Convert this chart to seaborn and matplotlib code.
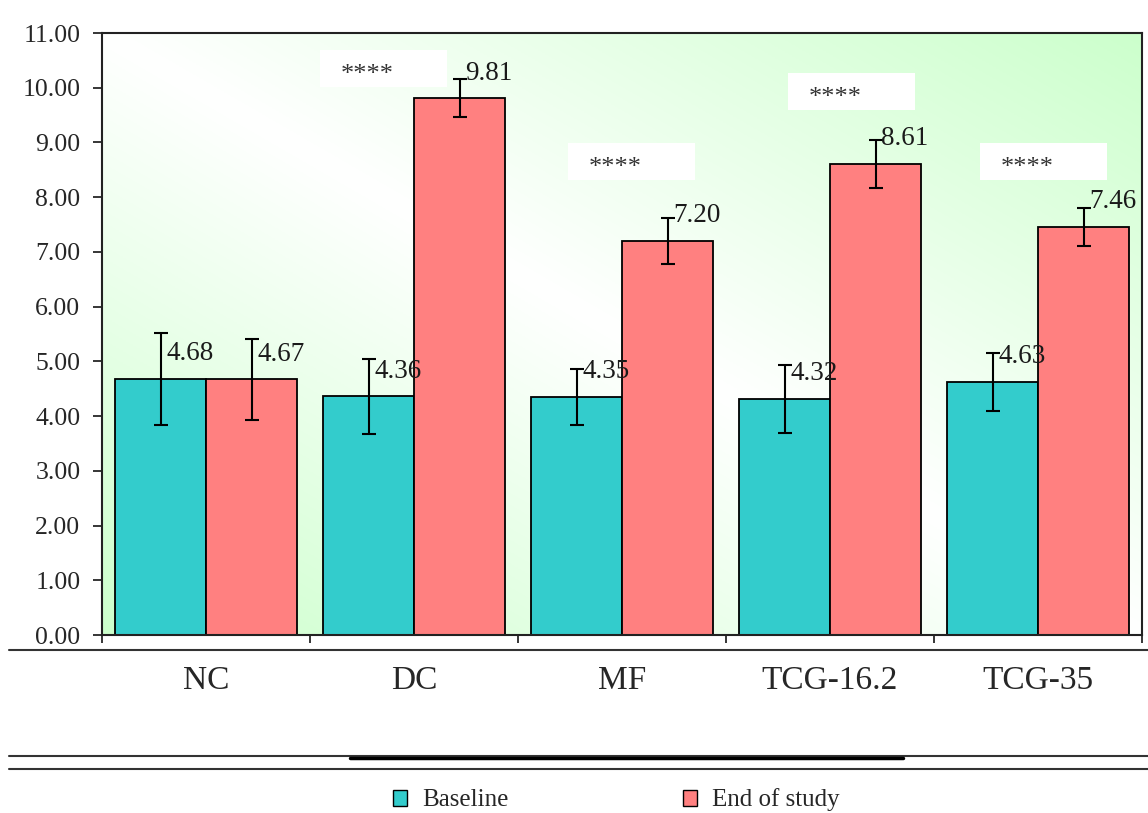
import numpy as np
import pandas as pd
import matplotlib.pyplot as plt
import seaborn as sns
from matplotlib.patches import Patch, Rectangle
from matplotlib.lines import Line2D

# Data
groups = ["NC", "DC", "MF", "TCG-16.2", "TCG-35"]
periods = ["Baseline", "End of study"]
baseline = [4.68, 4.36, 4.35, 4.32, 4.63]
end_study = [4.67, 9.81, 7.20, 8.61, 7.46]
baseline_err = [0.84, 0.69, 0.51, 0.62, 0.53]
end_err = [0.74, 0.35, 0.42, 0.44, 0.35]
star_groups = ["DC", "MF", "TCG-16.2", "TCG-35"]
star_text = "****"
yticks = np.arange(0, 12, 1)

# layout of the white "****" boxes (offset from group centre, bottom y)
star_dx = [-0.45, -0.26, -0.20, -0.28]
star_y0 = [10.01, 8.31, 9.59, 8.31]

sns.set_style("white")
plt.rcParams["font.family"] = ["Liberation Serif", "DejaVu Serif"]

df = pd.DataFrame({
    "Group": groups * 2,
    "Period": [periods[0]] * len(groups) + [periods[1]] * len(groups),
    "Value": baseline + end_study,
})
palette = {"Baseline": "#33CCCC", "End of study": "#FF8080"}

fig = plt.figure(figsize=(11.48, 8.13), dpi=100)
ax = fig.add_axes([102 / 1148, 1 - 635 / 813, 1040 / 1148, 602 / 813])

# diagonal gradient background: green in bottom-left and top-right corners
xx, yy = np.meshgrid(np.linspace(0, 1, 300), np.linspace(0, 1, 300))
t = np.abs(xx + yy - 1)
green = np.array([0.80, 1.0, 0.80])
img = 1 - t[..., None] * (1 - green)
ax.imshow(img, extent=[0, 1, 0, 1], transform=ax.transAxes, origin="lower",
          aspect="auto", zorder=0)

sns.barplot(data=df, x="Group", y="Value", hue="Period", order=groups,
            hue_order=periods, palette=palette, saturation=1, width=0.875,
            edgecolor="black", linewidth=1.3, errorbar=None, legend=False,
            ax=ax, zorder=2)

for cont, vals, errs in zip(ax.containers, [baseline, end_study], [baseline_err, end_err]):
    for bar, v, e in zip(cont, vals, errs):
        cx = bar.get_x() + bar.get_width() / 2
        ax.errorbar(cx, v, yerr=e, color="black", capsize=5, elinewidth=1.5,
                    capthick=1.5, zorder=3)
        ax.annotate(f"{v:.2f}", (cx, v), xytext=(4, 18), textcoords="offset points",
                    ha="left", va="center", fontsize=19.5, color="#1a1a1a", zorder=4)

for g, dx, y0 in zip(star_groups, star_dx, star_y0):
    i = groups.index(g)
    ax.add_patch(Rectangle((i + dx, y0), 0.61, 0.68, facecolor="white",
                           edgecolor="none", zorder=1.5))
    ax.text(i + dx + 0.1, y0 + 0.22, star_text, ha="left", va="center",
            fontsize=19, color="#333333", zorder=4)

ax.set_xlim(-0.5, len(groups) - 0.5)
ax.set_ylim(0, 11)
ax.set_yticks(yticks)
ax.set_yticklabels([f"{v:.2f}" for v in yticks], fontsize=18.5)
ax.tick_params(axis="y", direction="out", length=6.5, width=1.3, pad=9, left=True)
ax.set_xticks(range(len(groups)))
ax.set_xticklabels(groups, fontsize=24)
ax.tick_params(axis="x", which="major", length=0, pad=22)
ax.set_xticks(np.arange(-0.5, len(groups), 1), minor=True)
ax.tick_params(axis="x", which="minor", direction="out", length=6, width=1.3, bottom=True)
ax.set_xlabel("")
ax.set_ylabel("")
for s in ax.spines.values():
    s.set_color("#222222")
    s.set_linewidth(1.5)

# separator lines below the plot
fig.add_artist(Line2D([9 / 1148, 1], [1 - 650 / 813] * 2, color="#333333", lw=1.5))
fig.add_artist(Line2D([9 / 1148, 1], [1 - 756 / 813] * 2, color="#333333", lw=1.5))
fig.add_artist(Line2D([9 / 1148, 1], [1 - 769 / 813] * 2, color="#333333", lw=1.5))
fig.add_artist(Line2D([350 / 1148, 903 / 1148], [1 - 757.5 / 813] * 2, color="black", lw=2.5))

handles = [Patch(facecolor=palette[k], edgecolor="black", linewidth=1) for k in periods]
fig.legend(handles, periods, loc="center", bbox_to_anchor=(0.537, 0.016), ncol=2,
           frameon=False, fontsize=18, handlelength=0.55, handleheight=0.6,
           handletextpad=0.6, columnspacing=7.0)

fig.savefig("out.png", dpi=100)
